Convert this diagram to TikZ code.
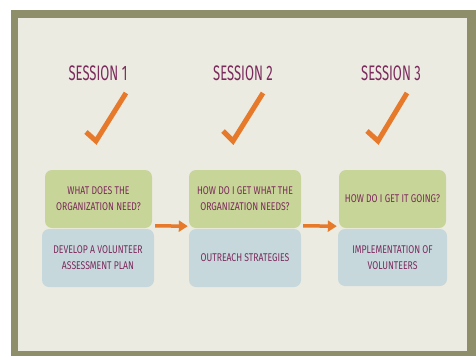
\documentclass[tikz,border=0pt]{standalone}
\usepackage{fontspec}
\setmainfont{Fira Sans}[FakeStretch=0.62]
\newfontfamily\boxfont{Fira Sans}[FakeStretch=0.77]
\usetikzlibrary{arrows.meta,calc}
\definecolor{frameolive}{HTML}{8F8E6B}
\definecolor{paper}{HTML}{ECEBE2}
\definecolor{plum}{HTML}{7B2A5C}
\definecolor{tick}{HTML}{E6792A}
\definecolor{sage}{HTML}{C8D598}
\definecolor{mist}{HTML}{C6D8DC}
\tikzset{
  title/.style={text=plum, font=\fontsize{21}{21}\selectfont, inner sep=0pt},
  qbox/.style={fill=sage, rounded corners=7pt, text=plum, align=center,
    font=\boxfont\fontsize{11.2}{16}\selectfont, inner sep=0pt},
  abox/.style={fill=mist, rounded corners=7pt, text=plum, align=center,
    font=\boxfont\fontsize{11.2}{16}\selectfont, inner sep=0pt},
  checkmark/.style={draw=tick, line width=5pt, line cap=butt, line join=miter},
  flow/.style={draw=tick, line width=3.5pt,
    -{Triangle[length=9pt,width=11pt]}}
}
\begin{document}
\begin{tikzpicture}[x=1pt,y=-1pt]
  \useasboundingbox (0,0) rectangle (476,356);
  % board and paper sheet
  \fill[white] (0,0) rectangle (476,356);
  \fill[frameolive] (11,10) rectangle (476,356);
  \fill[paper] (18,17.5) rectangle (467,351);

  % session headings
  \node[title] (s1) at (98,73) {SESSION 1};
  \node[title] (s2) at (243,73) {SESSION 2};
  \node[title] (s3) at (391,73) {SESSION 3};

  % check marks
  \draw[checkmark] (86,132) -- (96,141) -- (126,93);
  \draw[checkmark] (223,131) -- (233,141) -- (263,93);
  \draw[checkmark] (367,131) -- (378,141) -- (407,93);

  % answer boxes (drawn first, questions sit on top)
  \node[abox, minimum width=112pt, minimum height=58pt] (a1) at (98,258)
    {DEVELOP A VOLUNTEER\\ASSESSMENT PLAN};
  \node[abox, minimum width=112pt, minimum height=58pt] (a2) at (245,258)
    {OUTREACH STRATEGIES};
  \node[abox, minimum width=109pt, minimum height=57pt] (a3) at (392.5,257.5)
    {IMPLEMENTATION OF\\VOLUNTEERS};

  % question boxes
  \node[qbox, minimum width=107pt, minimum height=58pt] (q1) at (98.5,199)
    {WHAT DOES THE\\ORGANIZATION NEED?};
  \node[qbox, minimum width=112pt, minimum height=58pt] (q2) at (245,199)
    {HOW DO I GET WHAT THE\\ORGANIZATION NEEDS?};
  \node[qbox, minimum width=107pt, minimum height=58pt] (q3) at (392.5,199)
    {HOW DO I GET IT GOING?};

  % flow arrows
  \draw[flow] ($(a1.north east)+(1,-3)$) -- ($(q2.south west)+(-1,-2)$);
  \draw[flow] ($(a2.north east)+(2,-3)$) -- ($(q3.south west)+(-2,-2)$);
\end{tikzpicture}
\end{document}
